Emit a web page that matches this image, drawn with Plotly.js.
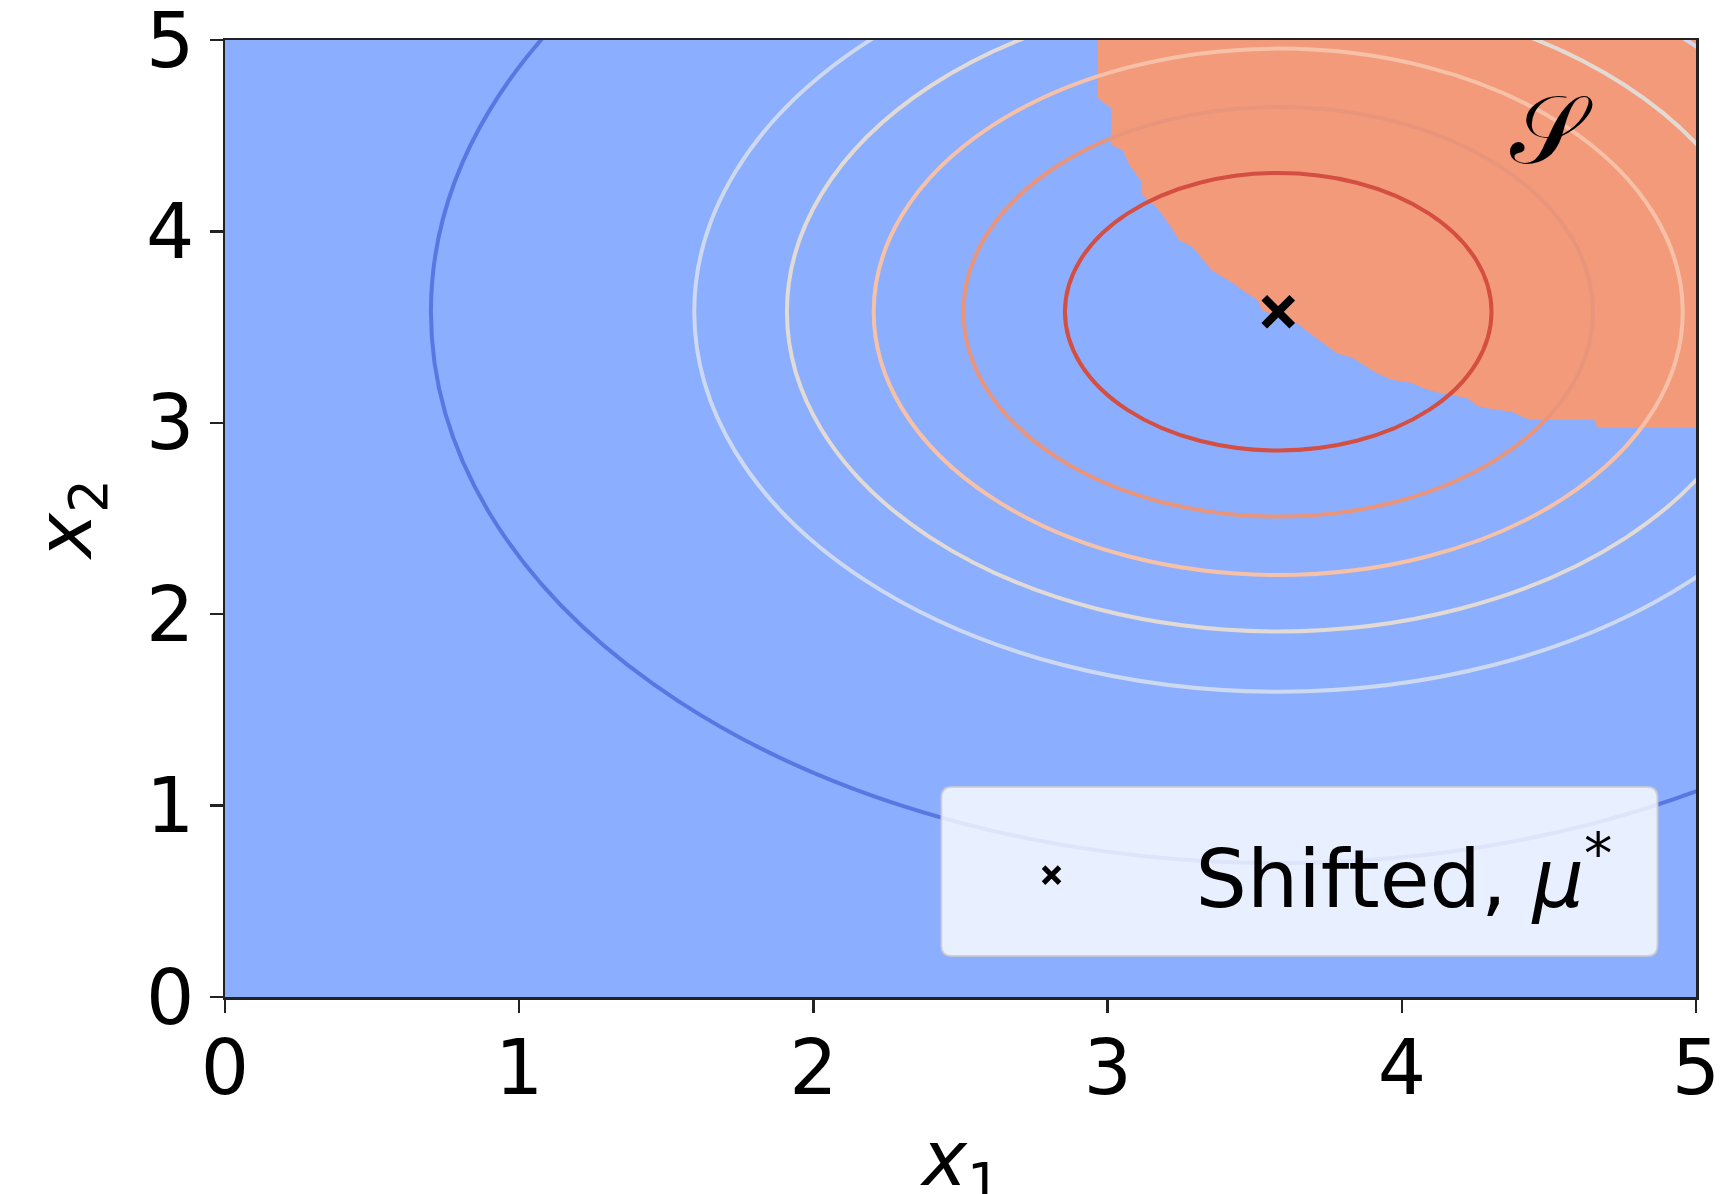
<!DOCTYPE html>
<html>
<head>
<meta charset="utf-8">
<script src="https://cdn.plot.ly/plotly-3.0.1.min.js"></script>
<style>
  html, body { margin: 0; padding: 0; background: #ffffff; }
  #chart { width: 1733px; height: 1194px; }
</style>
</head>
<body>
<div id="chart"></div>
<script>
// Axis ticks
const xTicks = [0, 1, 2, 3, 4, 5];
const yTicks = [0, 1, 2, 3, 4, 5];
const xTickLabels = ['0', '1', '2', '3', '4', '5'];
const yTickLabels = ['0', '1', '2', '3', '4', '5'];

// Shifted mean
const muX = [3.58];
const muY = [3.58];

// Density contour radii around the shifted mean (innermost first)
const ringRadii = [0.725, 1.07, 1.375, 1.67, 1.985, 2.88];

// Region S: boundary traced from the top edge down to the right edge, then closed along the frame
const regionX = [2.966, 2.966, 3.012, 3.012, 3.051, 3.074, 3.114, 3.118, 3.159, 3.187,
                 3.217, 3.244, 3.289, 3.323, 3.353, 3.391, 3.425, 3.472, 3.510, 3.524,
                 3.551, 3.642, 3.686, 3.731, 3.778, 3.833, 3.880, 3.914, 3.968, 4.036,
                 4.070, 4.128, 4.220, 4.264, 4.376, 4.410, 4.441, 4.655, 4.665, 5.0, 5.0];
const regionY = [5.0, 4.697, 4.645, 4.451, 4.425, 4.347, 4.263, 4.190, 4.138, 4.086,
                 4.018, 3.954, 3.918, 3.851, 3.798, 3.762, 3.730, 3.678, 3.642, 3.589,
                 3.574, 3.521, 3.469, 3.417, 3.365, 3.339, 3.292, 3.260, 3.224, 3.208,
                 3.182, 3.156, 3.130, 3.083, 3.056, 3.030, 3.014, 3.014, 2.973, 2.973, 5.0];

// Legend label, axis labels and region label
const legendLabel = 'Shifted, <i>μ</i><sup>*</sup>';
const xLabel = '<i>x</i><sub>1</sub>';
const yLabel = '<i>x</i><sub>2</sub>';
const regionLabel = '𝒮';
const regionLabelPos = [4.51, 4.53];

// Styling
const BLUE = '#8CAEFE';
const ORANGE = '#F39A7B';
const ringColors = ['#D44E41', '#E9957C', '#F6C1A7', '#E2DAD5', '#CDD9F0', '#5977E3'];
const FONT = 'DejaVu Sans, Noto Sans, sans-serif';

const traces = [
  {
    type: 'scatter',
    mode: 'lines',
    x: regionX,
    y: regionY,
    fill: 'toself',
    fillcolor: ORANGE,
    line: { width: 0, color: ORANGE },
    hoverinfo: 'skip',
    showlegend: false
  },
  {
    type: 'scatter',
    mode: 'markers',
    x: muX,
    y: muY,
    name: legendLabel,
    marker: { symbol: 'x-thin', size: 28, color: '#000', line: { width: 8, color: '#000' } },
    showlegend: true
  }
];

// Contour rings as circles in data space
const shapes = ringRadii.map((r, i) => ({
  type: 'circle',
  xref: 'x', yref: 'y',
  x0: muX[0] - r, x1: muX[0] + r,
  y0: muY[0] - r, y1: muY[0] + r,
  line: { color: ringColors[i], width: 4 },
  fillcolor: 'rgba(0,0,0,0)',
  layer: 'above'
}));

// Rounded legend frame (semi-transparent, like a framed legend)
const lb = { x0: 2.435, x1: 4.869, y0: 0.214, y1: 1.097, rx: 0.035, ry: 0.055 };
shapes.push({
  type: 'path',
  xref: 'x', yref: 'y',
  path: `M ${lb.x0 + lb.rx},${lb.y0} L ${lb.x1 - lb.rx},${lb.y0} Q ${lb.x1},${lb.y0} ${lb.x1},${lb.y0 + lb.ry} ` +
        `L ${lb.x1},${lb.y1 - lb.ry} Q ${lb.x1},${lb.y1} ${lb.x1 - lb.rx},${lb.y1} ` +
        `L ${lb.x0 + lb.rx},${lb.y1} Q ${lb.x0},${lb.y1} ${lb.x0},${lb.y1 - lb.ry} ` +
        `L ${lb.x0},${lb.y0 + lb.ry} Q ${lb.x0},${lb.y0} ${lb.x0 + lb.rx},${lb.y0} Z`,
  fillcolor: 'rgba(255,255,255,0.8)',
  line: { color: 'rgba(204,204,204,0.8)', width: 2 },
  layer: 'above'
});

const axisCommon = {
  range: [0, 5],
  showgrid: false,
  zeroline: false,
  showline: true,
  linecolor: '#222',
  linewidth: 2.5,
  mirror: true,
  ticks: 'outside',
  ticklen: 13,
  tickwidth: 2.5,
  tickcolor: '#222',
  ticklabeloverflow: 'allow',
  tickfont: { family: FONT, size: 76, color: '#000' },
  fixedrange: true
};

const layout = {
  width: 1733,
  height: 1194,
  margin: { l: 225, r: 37, t: 40, b: 197, pad: 0 },
  paper_bgcolor: '#ffffff',
  plot_bgcolor: BLUE,
  font: { family: FONT, color: '#000' },
  showlegend: true,
  xaxis: Object.assign({}, axisCommon, {
    tickvals: xTicks,
    ticktext: xTickLabels,
    ticklabelstandoff: -10
  }),
  yaxis: Object.assign({}, axisCommon, {
    tickvals: yTicks,
    ticktext: yTickLabels,
    title: { text: yLabel, font: { family: FONT, size: 76, color: '#000' }, standoff: 30 }
  }),
  legend: {
    x: 0.464, y: 0.127,
    xanchor: 'left', yanchor: 'middle',
    bgcolor: 'rgba(0,0,0,0)',
    borderwidth: 0,
    itemwidth: 278,
    font: { family: FONT, size: 81, color: '#000' }
  },
  annotations: [
    {
      x: regionLabelPos[0], y: regionLabelPos[1],
      xref: 'x', yref: 'y',
      text: regionLabel,
      showarrow: false,
      font: { family: 'DejaVu Serif, DejaVu Sans, Noto Sans, serif', size: 96, color: '#000' }
    },
    {
      // x-axis label, sitting low against the bottom edge
      x: 0.5, y: -0.174,
      xref: 'paper', yref: 'paper',
      xanchor: 'center', yanchor: 'middle',
      text: xLabel,
      showarrow: false,
      font: { family: FONT, size: 76, color: '#000' }
    }
  ],
  shapes: shapes
};

Plotly.newPlot('chart', traces, layout, { displayModeBar: false, staticPlot: true });
</script>
</body>
</html>
